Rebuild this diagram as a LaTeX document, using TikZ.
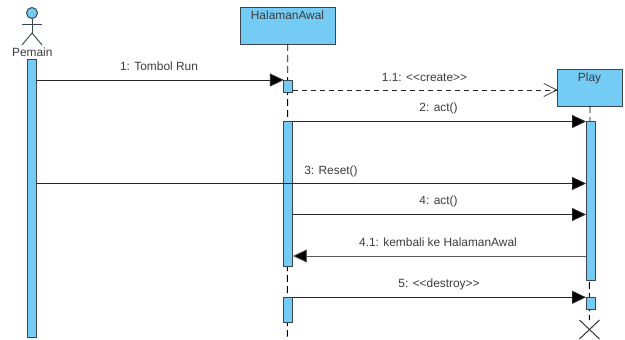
\documentclass[tikz,border=0pt]{standalone}
\usepackage{fontspec}
\setmainfont{Liberation Sans}
\usetikzlibrary{arrows.meta}
\definecolor{fillblue}{HTML}{74CBF4}
\definecolor{edge}{HTML}{3A4650}
\definecolor{txt}{HTML}{3C3C3C}
\tikzset{
  x=1pt,y=-1pt,
  box/.style={draw=edge,line width=1pt,fill=fillblue,inner sep=0pt,outer sep=0pt},
  barbox/.style={box,minimum width=9pt},
  life/.style={draw=black,line width=0.9pt,dash pattern=on 7pt off 4pt},
  msg/.style={draw=black!85,line width=0.9pt,-{Triangle[length=14pt,width=13pt,fill=black]}},
  create/.style={draw=black!85,line width=0.9pt,dash pattern=on 5.5pt off 3.5pt,-{Straight Barb[length=13pt,width=13pt,line width=0.7pt,round=false]}},
  lbl/.style={font=\fontsize{11.9pt}{13pt}\selectfont,text=txt,inner sep=0pt},
  stick/.style={draw=edge,line width=0.9pt},
}
\begin{document}
\begin{tikzpicture}
\useasboundingbox (0,0) rectangle (625,340);
\fill[white] (0,0) rectangle (625,340);
% lifelines ends
\coordinate (hlend) at (287.3,336.7);
\coordinate (plend) at (589.3,320);
% headers
\node[box,minimum width=95.5pt,minimum height=36.5pt,anchor=north west] (halaman) at (240,7.5) {};
\node[lbl,anchor=center] (halamant) at (287.5,15.5) {HalamanAwal};
\node[box,minimum width=65.4pt,minimum height=36.5pt,anchor=north west] (play) at (557.3,69.5) {};
\node[lbl,anchor=center] (playt) at (589.5,78) {Play};
\draw[life] (halaman.south) -- (hlend);
\draw[life] (play.south) -- (plend);
% actor
\node[box,circle,minimum size=11pt] (ahead) at (32,13) {};
\coordinate (ahip) at (32,33);
\coordinate (alarm) at (22,24);
\coordinate (ararm) at (42,24);
\coordinate (alleg) at (22,45);
\coordinate (arleg) at (42,45);
\draw[stick] (ahead.south) -- (ahip);
\draw[stick] (alarm) -- (ararm);
\draw[stick] (alleg) -- (ahip) -- (arleg);
\node[lbl] (pemain) at (32.3,52) {Pemain};
% activation bars
\node[barbox,minimum height=278pt,anchor=north] (bp) at (32,59.5) {};
\node[barbox,minimum height=12.5pt,anchor=north] (bh1) at (288.3,80) {};
\node[barbox,minimum height=144.8pt,anchor=north] (bh2) at (288.3,121.5) {};
\node[barbox,minimum height=25pt,anchor=north] (bh3) at (288.3,297.3) {};
\node[barbox,minimum height=159.2pt,anchor=north] (bl1) at (590.5,121.5) {};
\node[barbox,minimum height=12.4pt,anchor=north] (bl2) at (590.5,297.3) {};
% message levels
\coordinate (m1) at (0,80);
\coordinate (m11) at (0,90);
\coordinate (m3) at (0,183.5);
\coordinate (m4) at (0,214.5);
\coordinate (m41) at (0,256);
\draw[msg] (bp.east |- m1) -- (bh1.north west);
\draw[create] (bh1.east |- m11) -- (play.west |- m11);
\draw[msg] (bh2.north east) -- (bl1.north west);
\draw[msg] (bp.east |- m3) -- (bl1.west |- m3);
\draw[msg] (bh2.east |- m4) -- (bl1.west |- m4);
\draw[msg,draw=black!65] (bl1.west |- m41) -- (bh2.east |- m41);
\draw[msg] (bh3.north east) -- (bl2.north west);
% destroy mark
\coordinate (xa) at (579.5,320);
\coordinate (xb) at (599.5,339);
\coordinate (xc) at (599.5,320);
\coordinate (xd) at (579.5,339);
\draw[stick,draw=black!85] (xa) -- (xb);
\draw[stick,draw=black!85] (xc) -- (xd);
% labels
\node[lbl] (l1) at (159,66) {1: Tombol Run};
\node[lbl] (l11) at (424.5,77) {1.1: <{}<create>{}>};
\node[lbl] (l2) at (438.5,108.5) {2: act()};
\node[lbl] (l3) at (331,171) {3: Reset()};
\node[lbl] (l4) at (438.5,201) {4: act()};
\node[lbl] (l41) at (438,242) {4.1: kembali ke HalamanAwal};
\node[lbl] (l5) at (439,284) {5: <{}<destroy>{}>};
\end{tikzpicture}
\end{document}
